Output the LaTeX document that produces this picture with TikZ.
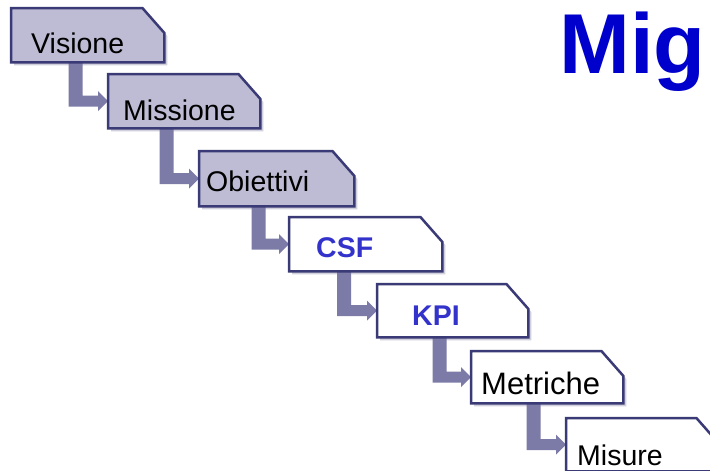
\documentclass[tikz,border=0pt]{standalone}
\usepackage{fontspec}
\setmainfont{Liberation Sans}
\usetikzlibrary{calc}
\definecolor{boxfill}{RGB}{190,188,212}
\definecolor{boxline}{RGB}{58,58,118}
\definecolor{conncol}{RGB}{124,122,166}
\definecolor{shadowcol}{RGB}{208,208,220}
\definecolor{titleblue}{RGB}{0,0,204}
\definecolor{keyblue}{RGB}{51,51,204}

\newcommand\boxshadow[1]{%
  \fill[shadowcol] ($(#1.south west)+(3pt,-3pt)$) -- ($(#1.north west)+(3pt,-3pt)$)
    -- ($(#1.north east)+(-19pt,-3pt)$) -- ($(#1.north east)+(3pt,-28pt)$)
    -- ($(#1.south east)+(3pt,-3pt)$) -- cycle;}
\newcommand\cutbox[2]{%
  \filldraw[fill=#2, boxborder] (#1.south west) -- (#1.north west)
    -- ($(#1.north east)+(-22pt,0)$) -- ($(#1.north east)+(0,-25pt)$)
    -- (#1.south east) -- cycle;}
\newcommand\elbow[3]{%
  \fill[conncol] ($(#1.south -| #3)+(-7pt,0)$) -- ($(#1.south -| #3)+(7pt,0)$)
    -- ($(#2.west -| #3)+(7pt,5.5pt)$) -- ($(#2.west)+(-10pt,5.5pt)$)
    -- ($(#2.west)+(-10pt,10pt)$) -- (#2.west) -- ($(#2.west)+(-10pt,-10pt)$)
    -- ($(#2.west)+(-10pt,-5.5pt)$) -- ($(#2.west -| #3)+(-7pt,-5.5pt)$) -- cycle;}

\tikzset{
  stepbox/.style={rectangle, draw=none, inner sep=0pt, anchor=north west},
  boxborder/.style={draw=boxline, line width=2.5pt, line join=miter},
  lbl/.style={anchor=base west, inner sep=0pt, font=\fontsize{28.5}{30}\selectfont},
  keylbl/.style={lbl, font=\bfseries\fontsize{28.5}{30}\selectfont, text=keyblue},
}

\begin{document}
\begin{tikzpicture}[x=1pt, y=-1pt]
\clip (0,0) rectangle (710,471);
\useasboundingbox (0,0) rectangle (710,471);
\fill[white] (0,0) rectangle (710,471);

% boxes (anchors only)
\node[stepbox, minimum width=153pt, minimum height=54pt] (v1) at (11,8) {};
\node[stepbox, minimum width=152pt, minimum height=54pt] (v2) at (108,74) {};
\node[stepbox, minimum width=155pt, minimum height=55pt] (v3) at (199,151) {};
\node[stepbox, minimum width=153pt, minimum height=54pt] (v4) at (289,217) {};
\node[stepbox, minimum width=151pt, minimum height=53pt] (v5) at (377,284) {};
\node[stepbox, minimum width=152pt, minimum height=52pt] (v6) at (471,351) {};
\node[stepbox, minimum width=152pt, minimum height=53pt] (v7) at (566,418) {};

\coordinate (k1) at (75.5,0);
\coordinate (k2) at (166.5,0);
\coordinate (k3) at (258.5,0);
\coordinate (k4) at (344,0);
\coordinate (k5) at (439.5,0);
\coordinate (k6) at (533.5,0);

% shadows
\foreach \n in {v1,v2,v3,v4,v5,v6,v7} {\boxshadow{\n}}

% connectors
\elbow{v1}{v2}{k1}
\elbow{v2}{v3}{k2}
\elbow{v3}{v4}{k3}
\elbow{v4}{v5}{k4}
\elbow{v5}{v6}{k5}
\elbow{v6}{v7}{k6}

% box outlines
\cutbox{v1}{boxfill}
\cutbox{v2}{boxfill}
\cutbox{v3}{boxfill}
\cutbox{v4}{white}
\cutbox{v5}{white}
\cutbox{v6}{white}
\cutbox{v7}{white}

% labels
\node[lbl] (l1) at (31,53) {Visione};
\node[lbl] (l2) at (123,120) {Missione};
\node[lbl] (l3) at (206,191) {Obiettivi};
\node[keylbl] (l4) at (316,257) {CSF};
\node[keylbl] (l5) at (412,325) {KPI};
\node[lbl, font=\fontsize{31}{32}\selectfont] (l6) at (481,394) {Metriche};
\node[lbl] (l7) at (577,465) {Misure};

\node[anchor=base west, inner sep=0pt, text=titleblue,
      font=\bfseries\fontsize{85}{85}\selectfont] (title) at (559,73) {Mig};
\end{tikzpicture}
\end{document}
